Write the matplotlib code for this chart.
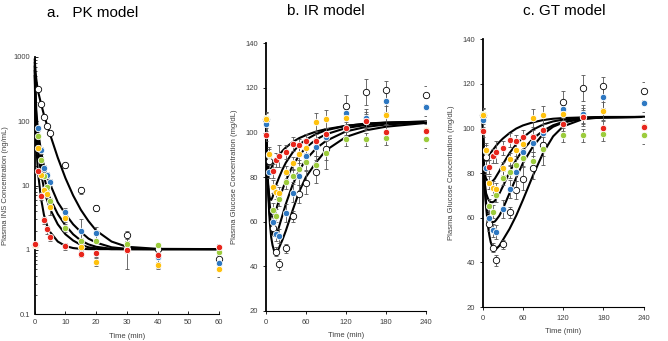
import numpy as np
import matplotlib
matplotlib.use("Agg")
import matplotlib.pyplot as plt
from matplotlib.ticker import NullFormatter

plt.rcParams["font.family"] = ["Liberation Sans", "DejaVu Sans"]

# series order: white, blue, green, orange, red
colors = ["white", "#2e78c2", "#9ccc3c", "#ffc20e", "#e8261c"]
edges = ["black", "white", "white", "white", "white"]

# ---- a. PK model: observed insulin (ng/mL) ----
pk_time = [0, 1, 2, 3, 4, 5, 10, 15, 20, 30, 40, 60]
pk_white = [1.2, 310, 184, 117, 84, 65, 20.5, 8.5, 4.5, 1.7, 1.05, 0.72]
pk_blue = [1.2, 77, 35, 18.5, 14.5, 11.2, 3.9, 2.0, 1.85, 1.02, 0.78, 0.62]
pk_green = [1.2, 59, 25, 14, 9.6, 5.8, 2.2, 1.37, 1.37, 1.22, 1.18, 0.93]
pk_orange = [1.2, 38, 14.6, 8.5, 7.4, 4.7, 3.1, 1.1, 0.66, 0.99, 0.58, 0.50]
pk_red = [1.24, 17, 6.95, 2.9, 2.08, 1.57, 1.15, 0.87, 0.89, 1.0, 0.84, 1.12]
pk_sd = [
    [0.1, 20, 15, 10, 6, 5, 2, 1, 0.5, 0.3, 0.2, 0.2],
    [0.1, 8, 4, 2, 1.5, 1.2, 0.6, 1.0, 0.4, 0.1, 0.25, 0.1],
    [0.1, 5, 3, 1.5, 1, 0.6, 0.3, 0.15, 0.1, 0.15, 0.1, 0.1],
    [0.1, 4, 2, 1.5, 1, 1.2, 0.4, 0.2, 0.1, 0.1, 0.08, 0.12],
    [0.1, 2, 1, 0.4, 0.3, 0.2, 0.15, 0.1, 0.1, 0.5, 0.1, 0.1],
]

# model curves, PK
pk_fit_time = [0, 0.25, 0.5, 1, 2, 3, 4, 5, 7.5, 10, 12.5, 15, 17.5, 20, 25, 30, 40, 60]
pk_fit_white = [900, 600, 450, 300, 190, 125, 87, 62, 27, 13, 7, 4.2, 2.8, 2.0, 1.35, 1.12, 1.04, 1.03]
pk_fit_blue = [800, 300, 150, 75, 35, 20, 14, 10.5, 5.5, 3.6, 2.5, 1.9, 1.5, 1.3, 1.1, 1.04, 1.03, 1.03]
pk_fit_green = [700, 230, 110, 55, 25, 14, 9, 6.3, 3.6, 2.4, 1.75, 1.4, 1.22, 1.12, 1.04, 1.03, 1.03, 1.03]
pk_fit_orange = [600, 170, 80, 38, 16, 9, 6, 4.3, 2.5, 1.75, 1.4, 1.2, 1.1, 1.06, 1.03, 1.03, 1.03, 1.03]
pk_fit_red = [500, 100, 45, 17, 6.5, 3.5, 2.4, 1.9, 1.35, 1.15, 1.07, 1.04, 1.03, 1.03, 1.03, 1.03, 1.03, 1.03]

# ---- b/c: observed glucose (mg/dL) ----
glu_time = [0, 5, 10, 15, 20, 30, 40, 50, 60, 75, 90, 120, 150, 180, 240]
glu_white = [105.9, 87.3, 57.1, 46.5, 41.0, 48.2, 62.4, 72.4, 77.6, 82.5, 92.5, 111.9, 118.2, 119.1, 117.0]
glu_blue = [103.9, 82.5, 60.0, 54.3, 53.6, 63.9, 73.0, 80.6, 89.7, 93.7, 97.9, 108.9, 106.5, 114.3, 111.4]
glu_green = [106.4, 89.8, 65.3, 62.7, 70.1, 77.9, 80.7, 83.6, 87.0, 85.5, 90.7, 97.1, 97.0, 97.4, 97.2]
glu_orange = [106.0, 90.4, 75.8, 73.3, 72.8, 82.1, 86.2, 90.4, 93.0, 104.6, 106.1, 106.7, 105.0, 107.9, 101.0]
glu_red = [99.0, np.nan, 82.7, 87.7, 89.5, 91.3, 94.9, 94.3, 96.4, 96.2, 99.2, 101.9, 105.2, 100.4, 100.8]
glu_sd = [
    [3, 4, 3, 2, 2.5, 2, 2.5, 4, 5, 5, 5, 5, 6, 4, 4],
    [3, 3, 3, 3, 3, 4, 4, 4, 4, 4, 4, 3, 4, 5, 4],
    [3, 3, 3, 3, 3, 3, 3, 4, 4, 4, 7, 3, 3, 3, 4],
    [3, 3, 3, 3, 3, 3, 3, 4, 4, 4, 4, 4, 4, 4, 4],
    [3, 3, 3, 3, 5, 3, 3, 3, 3, 3, 3, 3, 3, 3, 3],
]

# model curves, IR
ir_time = [0, 1, 2, 3, 4, 5, 6, 8, 10, 12, 14, 16, 18, 20, 25, 30, 40, 50, 60, 75, 90, 120, 150, 180, 240]
ir_white = [105, 95, 85, 77, 70, 64, 59.5, 53, 49.5, 47.3, 46.3, 46.2, 47, 48.5, 52, 56, 65, 73.5, 80, 86.5, 92, 98, 101, 102.6, 104.3]
ir_blue = [105, 95, 86, 78, 72, 67, 63, 58, 55, 53.7, 53.6, 54.5, 56, 58, 63, 68, 76.5, 83, 87.8, 92.8, 96.2, 100.5, 102.5, 103.6, 104.6]
ir_green = [105, 95, 86, 79, 74, 70, 67, 63.5, 62, 62.5, 64, 66, 68, 70, 74.5, 78.5, 85, 89.8, 93.2, 96.8, 99.2, 102, 103.4, 104.2, 104.8]
ir_orange = [105, 92, 83, 77, 74, 72, 70.5, 69.8, 71, 73, 75, 77, 78.5, 80, 83.5, 86.5, 91, 94.5, 96.8, 99.3, 101, 103, 104, 104.5, 104.9]
ir_red = [105, 97, 90, 85, 82.5, 82, 82.5, 84, 85.5, 86.5, 87.5, 88.5, 89.3, 90, 91.8, 93.3, 95.7, 97.5, 98.8, 100.4, 101.5, 103, 103.9, 104.4, 104.9]

# model curves, GT
gt_time = [0, 1, 2, 3, 5, 8, 10, 12, 15, 18, 20, 25, 30, 40, 50, 60, 75, 90, 105, 120, 150, 180, 240]
gt_white = [105, 90, 80, 73, 65, 56, 52, 49, 46.5, 45.8, 46, 47.5, 50, 55, 61, 68, 79, 89, 96.5, 101, 104.3, 105, 105.2]
gt_blue = [105, 90, 80, 74, 67, 61.5, 59.5, 58.5, 58, 58.3, 59, 61, 64, 71, 78, 84.5, 92, 97.5, 100.8, 102.7, 104.5, 105, 105.2]
gt_green = [105, 91, 82, 76, 71, 68.5, 67.5, 67, 67, 67.5, 68.5, 71, 74, 80.5, 86, 90.5, 95.5, 99, 101.5, 103, 104.6, 105, 105.2]
gt_orange = [105, 92, 84, 80, 77.5, 76.3, 76, 76, 76.5, 77.5, 78.5, 81, 84, 89, 93, 96, 99.5, 101.8, 103.2, 104, 104.8, 105.1, 105.2]
gt_red = [105, 95, 90, 88.5, 88, 88, 88.5, 89.2, 90.3, 91.5, 92.3, 94, 95.5, 98, 100, 101.4, 102.8, 103.8, 104.4, 104.7, 105, 105.2, 105.2]


def draw_panel(ax, t_obs, obs, sds, t_fit, fits):
    for fit in fits:
        ax.plot(t_fit, fit, color="black", lw=1.5, zorder=2, clip_on=False)
    for values, sd, face, edge in zip(obs, sds, colors, edges):
        ax.errorbar(t_obs, values, yerr=sd, fmt="none", ecolor="#555555",
                    elinewidth=0.6, capsize=1.3, capthick=0.6, zorder=3)
        ax.plot(t_obs, values, "o", ms=4.6, mfc=face, mec=edge, mew=0.6,
                zorder=4, clip_on=False)
    for side in ["top", "right"]:
        ax.spines[side].set_visible(False)
    ax.spines["left"].set_linewidth(1.3)
    ax.spines["bottom"].set_linewidth(0.8)
    ax.tick_params(labelsize=5.5, labelcolor="#404040", length=2, width=0.6)


fig = plt.figure(figsize=(6.68, 3.41), dpi=100)

ax_a = fig.add_axes([0.052, 0.078, 0.276, 0.756])
ax_b = fig.add_axes([0.398, 0.088, 0.2395, 0.785])
ax_c = fig.add_axes([0.7226, 0.0997, 0.241, 0.785])

draw_panel(ax_a, pk_time, [pk_white, pk_blue, pk_green, pk_orange, pk_red], pk_sd,
           pk_fit_time, [pk_fit_white, pk_fit_blue, pk_fit_green, pk_fit_orange, pk_fit_red])
ax_a.set_yscale("log")
ax_a.set_ylim(0.1, 1000)
ax_a.set_xlim(0, 60)
ax_a.set_xticks([0, 10, 20, 30, 40, 50, 60])
ax_a.set_yticks([0.1, 1, 10, 100, 1000])
ax_a.set_yticklabels(["0.1", "1", "10", "100", "1000"])
ax_a.yaxis.set_minor_formatter(NullFormatter())
ax_a.tick_params(axis="both", which="both", direction="in")
ax_a.tick_params(which="minor", length=1.5, width=0.5)
ax_a.set_ylabel("Plasma INS Concentration (ng/mL)", fontsize=5.5, color="#404040")
ax_a.set_xlabel("Time (min)", fontsize=5.5, color="#404040")
ax_a.yaxis.set_label_coords(-0.14, 0.5)
ax_a.xaxis.set_label_coords(0.5, -0.073)

for ax, t_fit, fits in [(ax_b, ir_time, [ir_white, ir_blue, ir_green, ir_orange, ir_red]),
                        (ax_c, gt_time, [gt_white, gt_blue, gt_green, gt_orange, gt_red])]:
    draw_panel(ax, glu_time, [glu_white, glu_blue, glu_green, glu_orange, glu_red],
               glu_sd, t_fit, fits)
    ax.set_xlim(0, 240)
    ax.set_ylim(20, 140)
    ax.set_xticks([0, 60, 120, 180, 240])
    ax.set_yticks([20, 40, 60, 80, 100, 120, 140])
    ax.tick_params(direction="out")
    ax.set_ylabel("Plasma Glucose Concentration (mg/dL)", fontsize=5.5, color="#404040")
    ax.set_xlabel("Time (min)", fontsize=5.5, color="#404040")
    ax.yaxis.set_label_coords(-0.175, 0.5)
    ax.xaxis.set_label_coords(0.5, -0.078)

fig.text(0.139, 0.962, "a.   PK model", ha="center", va="center", fontsize=11)
fig.text(0.487, 0.968, "b. IR model", ha="center", va="center", fontsize=11)
fig.text(0.845, 0.968, "c. GT model", ha="center", va="center", fontsize=11)

fig.savefig("out.png", dpi=100)
